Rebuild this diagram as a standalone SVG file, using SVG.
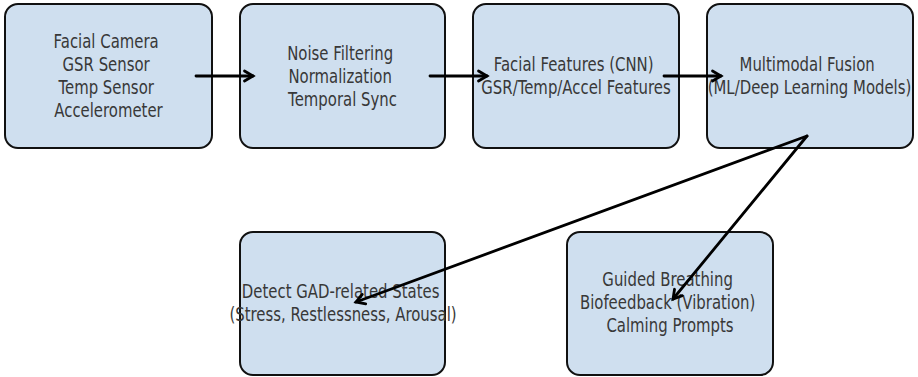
<svg xmlns="http://www.w3.org/2000/svg" width="918" height="377" viewBox="0 0 918 377">
  <style>
    .box { fill: #cfdfef; stroke: #111; stroke-width: 2; }
    .lbl { font-family: "DejaVu Sans", "Liberation Sans", sans-serif; font-size: 20px; fill: #383838; text-anchor: middle; }
    .edge { fill: none; stroke: #000; stroke-width: 2.8; stroke-linecap: round; marker-end: url(#head); }
  </style>
  <defs>
    <marker id="head" markerUnits="userSpaceOnUse" markerWidth="16" markerHeight="16" viewBox="-10 -8 12 16" refX="0" refY="0" orient="auto" overflow="visible">
      <path d="M-8.5,-5 L0,0 L-8.5,5" fill="none" stroke="#000" stroke-width="2.8" stroke-linecap="round" stroke-linejoin="miter"/>
    </marker>
  </defs>

  <rect width="918" height="377" fill="#fff"/>

  <!-- input sensors -->
  <g id="sensors">
    <rect class="box" x="5" y="4" width="207" height="144" rx="13"/>
    <text class="lbl" transform="matrix(0.745 0 0 1 108.5 0)">
      <tspan x="0" y="48">Facial Camera</tspan>
      <tspan x="0" y="71">GSR Sensor</tspan>
      <tspan x="0" y="94">Temp Sensor</tspan>
      <tspan x="0" y="117">Accelerometer</tspan>
    </text>
  </g>

  <!-- preprocessing -->
  <g id="preprocessing">
    <rect class="box" x="240" y="4" width="205" height="144" rx="13"/>
    <text class="lbl" transform="matrix(0.745 0 0 1 342.5 0)">
      <tspan x="0" y="60">Noise Filtering</tspan>
      <tspan x="0" y="83">Normalization</tspan>
      <tspan x="0" y="106">Temporal Sync</tspan>
    </text>
  </g>

  <!-- feature extraction -->
  <g id="features">
    <rect class="box" x="473" y="4" width="206" height="144" rx="13"/>
    <text class="lbl" transform="matrix(0.745 0 0 1 576 0)">
      <tspan x="0" y="71.5">Facial Features (CNN)</tspan>
      <tspan x="0" y="94.5">GSR/Temp/Accel Features</tspan>
    </text>
  </g>

  <!-- fusion model -->
  <g id="fusion">
    <rect class="box" x="707" y="4" width="206" height="144" rx="13"/>
    <text class="lbl" transform="matrix(0.745 0 0 1 809.5 0)">
      <tspan x="0" y="71.5">Multimodal Fusion</tspan>
      <tspan x="0" y="94.5">(ML/Deep Learning Models)</tspan>
    </text>
  </g>

  <!-- detection output -->
  <g id="detect">
    <rect class="box" x="240" y="232" width="205" height="143" rx="13"/>
    <text class="lbl" transform="matrix(0.745 0 0 1 343 0)">
      <tspan x="0" y="298">Detect GAD-related States</tspan>
      <tspan x="0" y="321">(Stress, Restlessness, Arousal)</tspan>
    </text>
  </g>

  <!-- intervention output -->
  <g id="intervention">
    <rect class="box" x="567" y="232" width="206" height="143" rx="13"/>
    <text class="lbl" transform="matrix(0.745 0 0 1 670 0)">
      <tspan x="0" y="286">Guided Breathing</tspan>
      <tspan x="0" y="309">Biofeedback (Vibration)</tspan>
      <tspan x="0" y="332">Calming Prompts</tspan>
    </text>
  </g>

  <!-- connectors -->
  <g id="connectors">
    <path class="edge" d="M196,76 L253,76"/>
    <path class="edge" d="M430,76 L487,76"/>
    <path class="edge" d="M664,76 L721,76"/>
    <path class="edge" d="M807,136 L356,302"/>
    <path class="edge" d="M807,136 L673,299"/>
  </g>
</svg>
